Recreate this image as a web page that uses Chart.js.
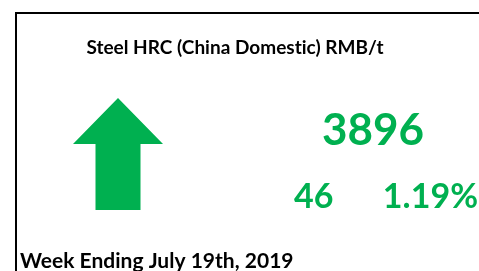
<!DOCTYPE html>
<html>
<head>
<meta charset="utf-8">
<script src="https://cdn.jsdelivr.net/npm/chart.js@4/dist/chart.umd.min.js"></script>
<style>
  html, body { margin: 0; padding: 0; background: #fff; }
  #tile { display: block; }
</style>
</head>
<body>
<canvas id="tile" width="479" height="271"></canvas>
<script>
const titleText = 'Steel HRC (China Domestic) RMB/t';
const weekLabel = 'Week Ending July 19th, 2019';
const prices = [3896];      // latest price, RMB/t
const changes = [46];       // week on week change
const changePct = [1.19];   // week on week change, %

const GREEN = '#00B050';
const RED = '#C00000';

// draws the KPI tile: frame, arrow, numbers
const kpiTile = {
    id: 'kpiTile',
    afterDraw(chart, args, opts) {
        const ctx = chart.ctx;
        const up = changes[0] >= 0;
        const col = up ? GREEN : RED;
        ctx.save();

        // frame (top + left edge, rest is cut off)
        ctx.fillStyle = '#000';
        ctx.fillRect(15, 12, chart.width, 2);
        ctx.fillRect(15, 12, 2, chart.height);

        // title (tiny letter spacing keeps Lato from using the "sti" ligature)
        ctx.textBaseline = 'alphabetic';
        ctx.fillStyle = '#000';
        ctx.font = 'bold 19px Lato';
        ctx.letterSpacing = '0.01px';
        ctx.textAlign = 'center';
        ctx.fillText(titleText, 235, 54);

        // arrow
        const a = opts.arrow;
        ctx.fillStyle = col;
        ctx.beginPath();
        if (up) {
            ctx.moveTo(a.cx, a.top);
            ctx.lineTo(a.cx + a.headW / 2, a.top + a.headH);
            ctx.lineTo(a.cx + a.shaftW / 2, a.top + a.headH);
            ctx.lineTo(a.cx + a.shaftW / 2, a.bottom);
            ctx.lineTo(a.cx - a.shaftW / 2, a.bottom);
            ctx.lineTo(a.cx - a.shaftW / 2, a.top + a.headH);
            ctx.lineTo(a.cx - a.headW / 2, a.top + a.headH);
        } else {
            ctx.moveTo(a.cx, a.bottom);
            ctx.lineTo(a.cx + a.headW / 2, a.bottom - a.headH);
            ctx.lineTo(a.cx + a.shaftW / 2, a.bottom - a.headH);
            ctx.lineTo(a.cx + a.shaftW / 2, a.top);
            ctx.lineTo(a.cx - a.shaftW / 2, a.top);
            ctx.lineTo(a.cx - a.shaftW / 2, a.bottom - a.headH);
            ctx.lineTo(a.cx - a.headW / 2, a.bottom - a.headH);
        }
        ctx.closePath();
        ctx.fill();

        // numbers
        ctx.fillStyle = col;
        ctx.font = 'bold 44px Lato';
        ctx.textAlign = 'center';
        ctx.fillText(String(prices[0]), 373, 145);

        ctx.font = 'bold 34px Lato';
        ctx.textAlign = 'left';
        ctx.fillText(String(changes[0]), 294, 208);
        ctx.textAlign = 'right';
        ctx.fillText(changePct[0].toFixed(2) + '%', 478, 208);

        // footer
        ctx.fillStyle = '#000';
        ctx.font = 'bold 21px Lato';
        ctx.textAlign = 'left';
        ctx.fillText(weekLabel, 20, 268);

        ctx.restore();
    }
};

const chart = new Chart(document.getElementById('tile'), {
    type: 'bar',
    data: {
        labels: [],
        datasets: []
    },
    options: {
        responsive: false,
        animation: false,
        events: [],
        scales: {
            x: { display: false },
            y: { display: false }
        },
        plugins: {
            legend: { display: false },
            tooltip: { enabled: false },
            kpiTile: {
                arrow: { cx: 118, top: 98, bottom: 210, headW: 90, headH: 46, shaftW: 45 }
            }
        }
    },
    plugins: [kpiTile]
});
</script>
</body>
</html>
